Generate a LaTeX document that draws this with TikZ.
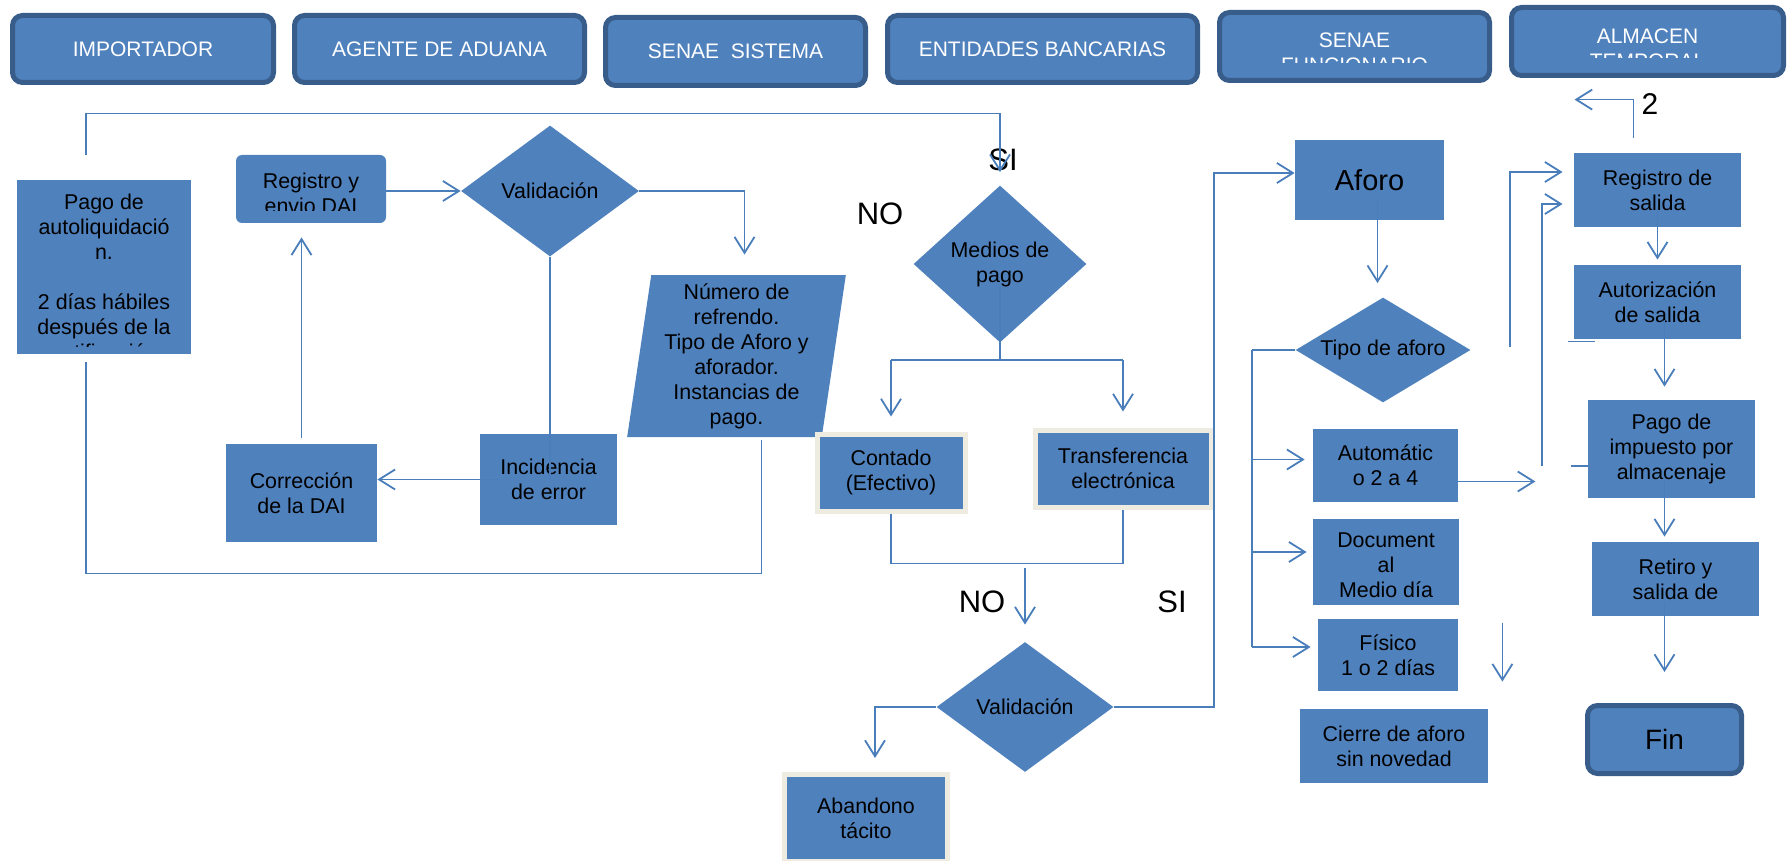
\documentclass[tikz,border=0pt]{standalone}
\usepackage{fontspec}
\setmainfont{Liberation Sans}
\usetikzlibrary{shapes.geometric}
\usetikzlibrary{arrows.meta}

\begin{document}
\begin{tikzpicture}[x=0.5pt,y=-0.5pt,>={Straight Barb[length=8pt,width=10pt]},
	flow/.style={draw=linkblue,line width=0.9pt},
	head text/.style={text=white,font=\fontsize{10.5}{12.5}\selectfont,align=center,inner sep=0pt},
	main text/.style={font=\fontsize{10.7}{12.5}\selectfont,align=center,inner sep=0pt},
	head node/.style={head text,rectangle,rounded corners=5pt,draw=headblue,line width=2.5pt,fill=boxblue},
	main node/.style={main text,rectangle,fill=boxblue},
	framed node/.style={main node,draw=framebeige,line width=2.5pt},
	test node/.style={main text,diamond,fill=boxblue},
	answer/.style={font=\fontsize{15.5}{18}\selectfont}]
	
	\definecolor{boxblue}{RGB}{79,129,189}
	\definecolor{headblue}{RGB}{56,93,138}
	\definecolor{linkblue}{RGB}{74,126,187}
	\definecolor{framebeige}{RGB}{238,236,225}
	
	\useasboundingbox (0,0) rectangle (1787,861);
	
	% cabeceras
	\node[head node,minimum width=130.5pt,minimum height=33.5pt] (imp) at (143,49) {IMPORTADOR};
	\node[head node,minimum width=145pt,minimum height=33.5pt] (age) at (439.5,49) {AGENTE DE ADUANA};
	\node[head node,minimum width=130pt,minimum height=34pt] (sis) at (735.5,51.5) {SENAE\ \ SISTEMA};
	\node[head node,minimum width=155pt,minimum height=33.5pt] (ban) at (1042.5,49) {ENTIDADES BANCARIAS};
	\node[head node,minimum width=135pt,minimum height=34pt] (fun) at (1354.5,46.5) {};
	\node[head node,minimum width=136pt,minimum height=34pt] (alm) at (1647.5,41.5) {};
	
	% importador, agente, sistema
	\node[main node,minimum width=87pt,minimum height=87pt] (pago) at (104,267) {};
	\node[main node,rounded corners=3pt,minimum width=75pt,minimum height=34pt] (reg) at (311,189) {};
	\node[test node,aspect=1.36,minimum width=89pt,minimum height=65.5pt] (val) at (550,191) {Validación};
	\node[main node,trapezium,trapezium left angle=82,trapezium right angle=98,trapezium stretches=true,
		minimum width=109.5pt,minimum height=81pt] (num) at (736.5,356) {Número de\\refrendo.\\Tipo de Aforo y\\aforador.\\Instancias de\\pago.};
	\node[main node,minimum width=75.5pt,minimum height=49pt] (cor) at (301.5,493) {Corrección\\de la DAI};
	\node[main node,minimum width=68.5pt,minimum height=45.5pt] (inc) at (548.5,479.5) {Incidencia\\de error};
	
	% bancos
	\node[test node,aspect=1.1,minimum width=86.5pt,minimum height=78.5pt] (med) at (1000,264) {Medios de\\pago};
	\node[framed node,minimum width=74pt,minimum height=38.5pt] (con) at (891,472.5) {Contado\\(Efectivo)};
	\node[framed node,minimum width=88pt,minimum height=38.5pt] (tra) at (1123,468.5) {Transferencia\\electrónica};
	\node[test node,aspect=1.36,minimum width=88.5pt,minimum height=65pt] (va2) at (1025,707) {Validación};
	\node[framed node,minimum width=81.5pt,minimum height=43.5pt] (aba) at (866,818) {Abandono\\tácito};
	
	% funcionario
	\node[main node,minimum width=74.5pt,minimum height=40pt,font=\fontsize{14.5}{17}\selectfont] (afo) at (1369.5,180) {Aforo};
	\node[test node,aspect=1.67,minimum width=87.5pt,minimum height=52.5pt] (tip) at (1383,350) {Tipo de aforo};
	\node[main node,minimum width=72.5pt,minimum height=36.5pt] (aut) at (1385.5,465.5) {Automátic\\o 2 a 4};
	\node[main node,minimum width=73pt,minimum height=43pt] (doc) at (1386,562) {};
	\node[main node,minimum width=70pt,minimum height=36pt] (fis) at (1388,655) {Físico\\1 o 2 días};
	\node[main node,minimum width=94pt,minimum height=37pt] (cie) at (1394,746) {Cierre de aforo\\sin novedad};
	
	% almacen
	\node[main node,minimum width=83.5pt,minimum height=37pt] (rsa) at (1657.5,190) {Registro de\\salida};
	\node[main node,minimum width=83.5pt,minimum height=37pt] (aus) at (1657.5,302) {Autorización\\de salida};
	\node[main node,minimum width=83.5pt,minimum height=49pt] (pim) at (1671.5,449) {Pago de\\impuesto por\\almacenaje};
	\node[main node,minimum width=83.5pt,minimum height=37pt] (ret) at (1675.5,579) {Retiro y\\salida de};
	\node[head node,text=black,minimum width=77pt,minimum height=34pt,font=\fontsize{14}{17}\selectfont] (fin) at (1664.5,739.5) {Fin};
	
	\node[answer] (no1) at (880,214) {NO};
	\node[answer] (si1) at (1003,160) {SI};
	\node[answer] (no2) at (982,602) {NO};
	\node[answer] (si2) at (1172,602) {SI};
	\node[answer,font=\fontsize{15}{18}\selectfont] (dos) at (1650,104) {2};
	
	% textos cortados
	\begin{scope}
		\clip (fun.north west) rectangle ([yshift=10pt]fun.south east);
		\node[head text,anchor=north] at ([yshift=-11pt]fun.north) {SENAE\\FUNCIONARIO};
	\end{scope}
	\begin{scope}
		\clip (alm.north west) rectangle ([yshift=10pt]alm.south east);
		\node[head text,anchor=north] at ([yshift=-11.5pt]alm.north) {ALMACEN\\TEMPORAL};
	\end{scope}
	\begin{scope}
		\clip (pago.north west) rectangle ([yshift=4pt]pago.south east);
		\node[main text,anchor=north] at ([yshift=-7pt]pago.north) {Pago de\\autoliquidació\\n.\\[12.5pt]2 días hábiles\\después de la\\notificación};
	\end{scope}
	\begin{scope}
		\clip (reg.north west) rectangle ([yshift=6.5pt]reg.south east);
		\node[main text,anchor=north] at ([yshift=-9pt]reg.north) {Registro y\\envio DAI};
	\end{scope}
	\begin{scope}
		\clip (doc.north west) rectangle ([yshift=4pt]doc.south east);
		\node[main text,anchor=north] at ([yshift=-7pt]doc.north) {Document\\al\\Medio día};
	\end{scope}
	
	% conectores
	\begin{scope}[flow]
	\draw[->] (reg.east |- val.west) -- (val.west);
	\draw[->,shorten >=10pt] (val.east) -| ([xshift=4pt]num.north);
	\draw (val.south) -- (val.south |- inc.center);
	\draw[->] ([xshift=10pt]inc.west) -- (inc.west -| cor.east);
	\draw[->,shorten <=3pt,shorten >=7pt] (cor.north) -- (cor.north |- reg.south);
	\draw ([xshift=12.5pt,yshift=-1.5pt]num.south) -- ++(0,133) -| ([xshift=-9pt,yshift=-4pt]pago.south);
	\draw[->,shorten >=6.5pt] ([xshift=-9pt,yshift=12.5pt]pago.north) -- ++(0,-41) -| (med.north);
	
	\coordinate (medfork) at ([yshift=-8.5pt]med.south);
	\draw ([yshift=28pt]med.south) -- (medfork);
	\draw (medfork -| con.north) -- (medfork -| tra.north);
	\draw[->,shorten >=7.5pt] (medfork -| con.north) -- (con.north);
	\draw[->,shorten >=8pt] (medfork -| tra.north) -- (tra.north);
	\coordinate (join) at ([yshift=-25pt]con.south);
	\draw (con.south) -- (join) -- (join -| tra.south) -- (tra.south);
	\draw[->,shorten <=2pt,shorten >=8.5pt] (join -| va2.north) -- (va2.north);
	\draw[->,shorten >=7pt] (va2.west) -| ([xshift=4.5pt]aba.north);
	\draw[->] (va2.east) -- ++(100,0) |- ([yshift=3.5pt]afo.west);
	
	\draw[->,shorten >=7pt] ([xshift=4pt,yshift=10pt]afo.south) -- ([xshift=4pt]afo.south |- tip.north);
	\draw (tip.west) -- ++(-43,0) coordinate (tipfork);
	\coordinate (autin) at ([yshift=3pt]aut.west);
	\coordinate (docin) at ([yshift=5pt]doc.west);
	\coordinate (fisin) at ([yshift=4pt]fis.west);
	\draw (tipfork) -- (tipfork |- fisin);
	\draw[->,shorten >=4pt] (tipfork |- autin) -- (autin);
	\draw[->,shorten >=3pt] (tipfork |- docin) -- (docin);
	\draw[->,shorten >=3.5pt] (tipfork |- fisin) -- (fisin);
	\coordinate (autout) at ([yshift=-8pt]aut.east);
	\coordinate (autend) at ([xshift=38.5pt]autout);
	\draw[->] (autout) -- (autend);
	\coordinate (fistop) at ([xshift=22pt,yshift=-2pt]fis.north east);
	\coordinate (fisend) at ([yshift=-29.5pt]fistop);
	\draw[->] (fistop) -- (fisend);
	
	\coordinate (twoend) at ([xshift=-41.5pt,yshift=26.5pt]rsa.north);
	\draw[->] ([xshift=-12pt,yshift=7.5pt]rsa.north) |- (twoend);
	\coordinate (rsain1) at ([yshift=9pt]rsa.west);
	\coordinate (rsain2) at ([yshift=-7pt]rsa.west);
	\coordinate (lowstub) at ([xshift=-32pt,yshift=-4pt]aus.south west);
	\coordinate (pimstub) at ([xshift=-23pt,yshift=-8.5pt]pim.west);
	\draw[->,shorten >=5.5pt] (lowstub) |- (rsain1);
	\draw[->,shorten >=5.5pt] (pimstub) |- (rsain2);
	\draw ([yshift=-8.5pt]pim.west) -- ++(-17,0);
	\draw ([xshift=-3pt,yshift=-1pt]aus.south west) -- ++(27,0);
	\draw[->] ([yshift=10pt]rsa.south) -- ([yshift=2.5pt]aus.north);
	\coordinate (ausout) at ([xshift=3.5pt,yshift=9.5pt]aus.south);
	\draw[->,shorten >=6.5pt] (ausout) -- (ausout |- pim.north);
	\coordinate (pimout) at ([xshift=-3.5pt,yshift=9pt]pim.south);
	\draw[->,shorten >=2.5pt] (pimout) -- (pimout |- ret.north);
	\coordinate (retout) at ([xshift=-5.5pt,yshift=6.5pt]ret.south);
	\draw[->,shorten >=15.5pt] (retout) -- (retout |- fin.north);
	\end{scope}
\end{tikzpicture}
\end{document}
